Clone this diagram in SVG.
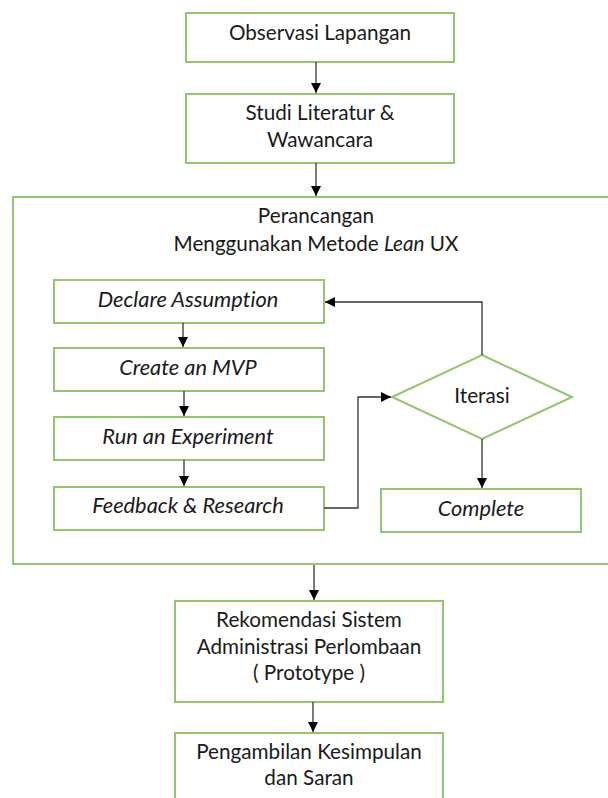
<svg xmlns="http://www.w3.org/2000/svg" width="608" height="798" viewBox="0 0 608 798">
<defs>
<style>
.box{fill:#fff;stroke:#93c56f;stroke-width:2}
.t{font-family:Lato,"Liberation Sans",sans-serif;font-size:20.7px;fill:#1a1a1a;text-anchor:middle;font-variant-ligatures:none}
.i{font-style:italic;font-size:21.8px}
.c{fill:none;stroke:#333;stroke-width:1.3}
</style>
<marker id="ah" viewBox="0 0 10 10" refX="10" refY="5" markerWidth="10" markerHeight="10" markerUnits="userSpaceOnUse" orient="auto">
<path d="M0,0 L10,5 L0,10 z" fill="#000"/>
</marker>
</defs>
<rect width="608" height="798" fill="#fff"/>
<g id="container">
<rect class="box" x="13" y="197" width="600" height="367"/>
<text class="t" x="316" y="223">Perancangan</text>
<text class="t" x="316" y="251">Menggunakan Metode <tspan font-style="italic">Lean</tspan> UX</text>
</g>
<g id="observasi">
<rect class="box" x="186" y="13" width="268" height="49"/>
<text class="t" x="320" y="40">Observasi Lapangan</text>
</g>
<g id="studi">
<rect class="box" x="186" y="94" width="268" height="69"/>
<text class="t" x="320" y="120">Studi Literatur &amp;</text>
<text class="t" x="320" y="147">Wawancara</text>
</g>
<g id="declare">
<rect class="box" x="54" y="280" width="270" height="43"/>
<text class="t i" x="188" y="307">Declare Assumption</text>
</g>
<g id="mvp">
<rect class="box" x="54" y="348" width="270" height="43"/>
<text class="t i" x="188" y="375">Create an MVP</text>
</g>
<g id="experiment">
<rect class="box" x="54" y="417" width="270" height="43"/>
<text class="t i" x="188" y="444">Run an Experiment</text>
</g>
<g id="feedback">
<rect class="box" x="54" y="487" width="270" height="43"/>
<text class="t i" x="188" y="513">Feedback &amp; Research</text>
</g>
<g id="iterasi">
<polygon class="box" points="482,355 572,397 482,439 392,397"/>
<text class="t" x="482" y="403">Iterasi</text>
</g>
<g id="complete">
<rect class="box" x="381" y="489" width="200" height="43"/>
<text class="t i" x="481" y="516">Complete</text>
</g>
<g id="rekomendasi">
<rect class="box" x="175" y="601" width="268" height="101"/>
<text class="t" x="309" y="627">Rekomendasi Sistem</text>
<text class="t" x="309" y="654">Administrasi Perlombaan</text>
<text class="t" x="309" y="680">( Prototype )</text>
</g>
<g id="pengambilan">
<rect class="box" x="175" y="733" width="268" height="80"/>
<text class="t" x="309" y="759">Pengambilan Kesimpulan</text>
<text class="t" x="309" y="785">dan Saran</text>
</g>
<g id="connectors">
<path class="c" d="M316,62 V93" marker-end="url(#ah)"/>
<path class="c" d="M316,163 V196" marker-end="url(#ah)"/>
<path class="c" d="M183,323 V347" marker-end="url(#ah)"/>
<path class="c" d="M184,391 V416" marker-end="url(#ah)"/>
<path class="c" d="M184,460 V486" marker-end="url(#ah)"/>
<path class="c" d="M324,508 H358 V397 H391" marker-end="url(#ah)"/>
<path class="c" d="M482,355 V302 H325" marker-end="url(#ah)"/>
<path class="c" d="M482,439 V488" marker-end="url(#ah)"/>
<path class="c" d="M314,565 V600" marker-end="url(#ah)"/>
<path class="c" d="M313,702 V732" marker-end="url(#ah)"/>
</g>
</svg>
